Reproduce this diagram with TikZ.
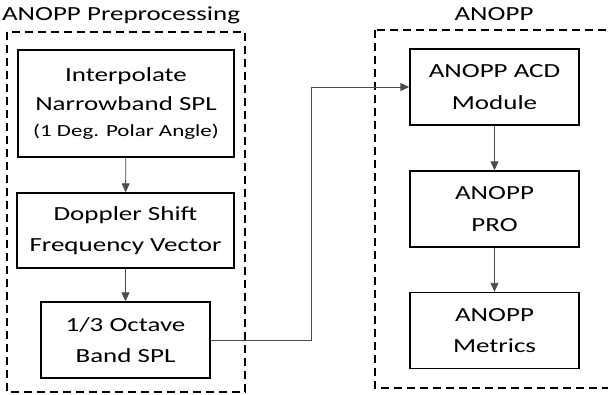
\documentclass[tikz,border=0pt]{standalone}
\usepackage{fontspec}
\setmainfont{Carlito}[FakeStretch=1.35]
\usepackage{tikz}
\usetikzlibrary{arrows.meta,positioning}

\tikzset{
    stage/.style={draw=black, line width=1.4pt, align=center, inner sep=0pt,
        font=\fontsize{20}{31.5}\selectfont},
    group/.style={draw=black, line width=1.4pt, dash pattern=on 8pt off 5pt},
    title/.style={font=\fontsize{20}{24}\selectfont, inner sep=0pt},
    flow/.style={draw=black!70, line width=0.9pt, -{Triangle[length=9pt,width=8pt]}}
}

\begin{document}
\begin{tikzpicture}[x=1pt, y=-1pt]
        \useasboundingbox (0,0) rectangle (608,394);
        % groups
        \draw[group] (7,32) rectangle (245,392);
        \draw[group] (375,30) rectangle (620,388);
        \node[title] (pretitle) at (121,15) {ANOPP Preprocessing};
        \node[title] (anopptitle) at (494,14) {ANOPP};
        % preprocessing
        \node[stage, minimum width=216pt, minimum height=107pt] (interp) at (126,103.5)
            {Interpolate\\[-2pt]Narrowband SPL\\[-6pt]{\fontsize{17}{20}\selectfont (1 Deg. Polar Angle)}};
        \node[stage, minimum width=217pt, minimum height=75pt] (doppler) at (125.5,230.5)
            {Doppler Shift\\Frequency Vector};
        \node[stage, minimum width=169pt, minimum height=76pt] (octave) at (125.5,340)
            {1/3 Octave\\Band SPL};
        % anopp
        \node[stage, minimum width=169pt, minimum height=76pt] (acd) at (494.5,87)
            {ANOPP ACD\\Module};
        \node[stage, minimum width=169pt, minimum height=76pt] (pro) at (494.5,209)
            {ANOPP\\PRO};
        \node[stage, minimum width=169pt, minimum height=76pt] (metrics) at (494.5,330.5)
            {ANOPP\\Metrics};
        \coordinate (bend) at (311,0);
        \draw[flow] (interp) -- (doppler);
        \draw[flow] (doppler) -- (octave);
        \draw[flow] (octave.east) -- (bend |- octave.east) -- (bend |- acd.west) -- (acd.west);
        \draw[flow] (acd) -- (pro);
        \draw[flow] (pro) -- (metrics);
    \end{tikzpicture}
\end{document}
